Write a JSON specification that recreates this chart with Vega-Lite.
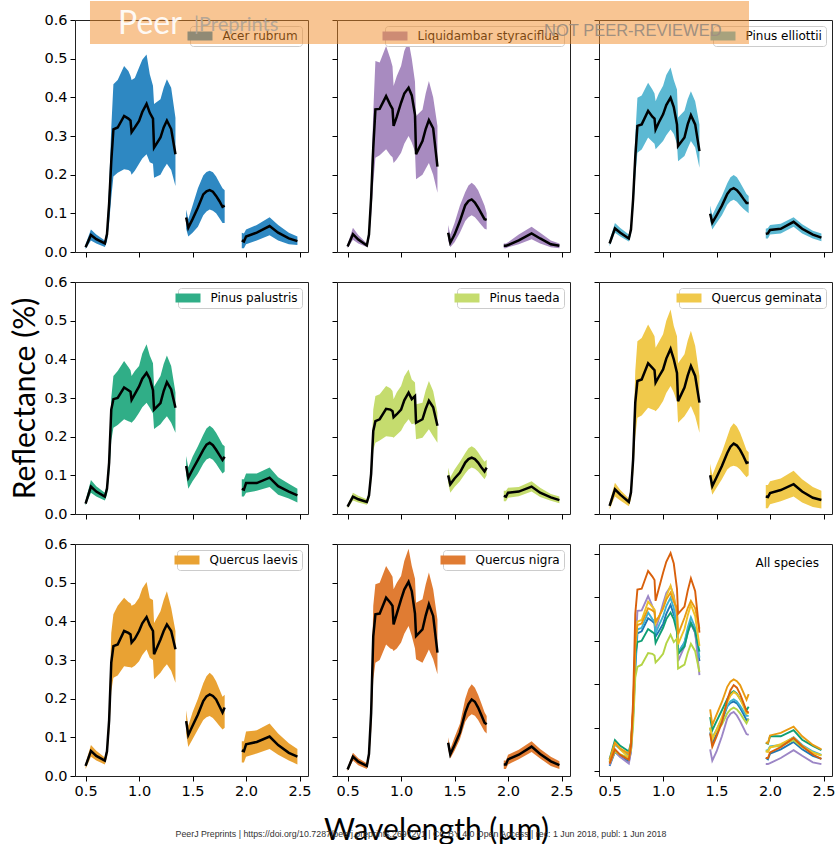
{
"$schema":"https://vega.github.io/schema/vega-lite/v6.json",
"autosize":{"type":"pad"},
"padding":{"left":9,"top":0,"right":4,"bottom":0},
"background":"white",
"datasets":{"s":[
{"s":"Acer rubrum","g":1,"w":0.5,"m":0.012,"lo":0.008,"hi":0.020},
{"s":"Acer rubrum","g":1,"w":0.55,"m":0.044,"lo":0.030,"hi":0.058},
{"s":"Acer rubrum","g":1,"w":0.6,"m":0.033,"lo":0.022,"hi":0.045},
{"s":"Acer rubrum","g":1,"w":0.68,"m":0.022,"lo":0.013,"hi":0.030},
{"s":"Acer rubrum","g":1,"w":0.7,"m":0.046,"lo":0.027,"hi":0.062},
{"s":"Acer rubrum","g":1,"w":0.72,"m":0.125,"lo":0.075,"hi":0.171},
{"s":"Acer rubrum","g":1,"w":0.74,"m":0.234,"lo":0.140,"hi":0.321},
{"s":"Acer rubrum","g":1,"w":0.76,"m":0.317,"lo":0.195,"hi":0.434},
{"s":"Acer rubrum","g":1,"w":0.8,"m":0.322,"lo":0.205,"hi":0.445},
{"s":"Acer rubrum","g":1,"w":0.86,"m":0.352,"lo":0.214,"hi":0.481},
{"s":"Acer rubrum","g":1,"w":0.9,"m":0.345,"lo":0.212,"hi":0.468},
{"s":"Acer rubrum","g":1,"w":0.92,"m":0.340,"lo":0.208,"hi":0.455},
{"s":"Acer rubrum","g":1,"w":0.93,"m":0.310,"lo":0.200,"hi":0.445},
{"s":"Acer rubrum","g":1,"w":0.96,"m":0.322,"lo":0.210,"hi":0.450},
{"s":"Acer rubrum","g":1,"w":1.0,"m":0.339,"lo":0.228,"hi":0.477},
{"s":"Acer rubrum","g":1,"w":1.03,"m":0.362,"lo":0.242,"hi":0.497},
{"s":"Acer rubrum","g":1,"w":1.07,"m":0.383,"lo":0.253,"hi":0.511},
{"s":"Acer rubrum","g":1,"w":1.1,"m":0.360,"lo":0.232,"hi":0.460},
{"s":"Acer rubrum","g":1,"w":1.13,"m":0.345,"lo":0.228,"hi":0.430},
{"s":"Acer rubrum","g":1,"w":1.14,"m":0.270,"lo":0.192,"hi":0.383},
{"s":"Acer rubrum","g":1,"w":1.2,"m":0.296,"lo":0.200,"hi":0.395},
{"s":"Acer rubrum","g":1,"w":1.23,"m":0.322,"lo":0.215,"hi":0.425},
{"s":"Acer rubrum","g":1,"w":1.26,"m":0.340,"lo":0.228,"hi":0.447},
{"s":"Acer rubrum","g":1,"w":1.3,"m":0.318,"lo":0.212,"hi":0.425},
{"s":"Acer rubrum","g":1,"w":1.34,"m":0.253,"lo":0.171,"hi":0.347},
{"s":"Acer rubrum","g":2,"w":1.44,"m":0.089,"lo":0.060,"hi":0.110},
{"s":"Acer rubrum","g":2,"w":1.46,"m":0.063,"lo":0.040,"hi":0.085},
{"s":"Acer rubrum","g":2,"w":1.5,"m":0.085,"lo":0.050,"hi":0.120},
{"s":"Acer rubrum","g":2,"w":1.55,"m":0.115,"lo":0.065,"hi":0.165},
{"s":"Acer rubrum","g":2,"w":1.6,"m":0.149,"lo":0.095,"hi":0.198},
{"s":"Acer rubrum","g":2,"w":1.63,"m":0.157,"lo":0.105,"hi":0.207},
{"s":"Acer rubrum","g":2,"w":1.66,"m":0.160,"lo":0.110,"hi":0.210},
{"s":"Acer rubrum","g":2,"w":1.69,"m":0.156,"lo":0.107,"hi":0.206},
{"s":"Acer rubrum","g":2,"w":1.72,"m":0.145,"lo":0.100,"hi":0.195},
{"s":"Acer rubrum","g":2,"w":1.75,"m":0.132,"lo":0.088,"hi":0.180},
{"s":"Acer rubrum","g":2,"w":1.78,"m":0.117,"lo":0.075,"hi":0.165},
{"s":"Acer rubrum","g":2,"w":1.8,"m":0.120,"lo":0.075,"hi":0.160},
{"s":"Acer rubrum","g":3,"w":1.96,"m":0.030,"lo":0.010,"hi":0.050},
{"s":"Acer rubrum","g":3,"w":1.98,"m":0.027,"lo":0.010,"hi":0.048},
{"s":"Acer rubrum","g":3,"w":2.0,"m":0.040,"lo":0.020,"hi":0.058},
{"s":"Acer rubrum","g":3,"w":2.1,"m":0.050,"lo":0.030,"hi":0.070},
{"s":"Acer rubrum","g":3,"w":2.22,"m":0.067,"lo":0.043,"hi":0.090},
{"s":"Acer rubrum","g":3,"w":2.3,"m":0.050,"lo":0.030,"hi":0.070},
{"s":"Acer rubrum","g":3,"w":2.4,"m":0.035,"lo":0.020,"hi":0.050},
{"s":"Acer rubrum","g":3,"w":2.48,"m":0.028,"lo":0.018,"hi":0.040},
{"s":"Liquidambar styraciflua","g":1,"w":0.5,"m":0.014,"lo":0.010,"hi":0.020},
{"s":"Liquidambar styraciflua","g":1,"w":0.55,"m":0.046,"lo":0.032,"hi":0.063},
{"s":"Liquidambar styraciflua","g":1,"w":0.6,"m":0.032,"lo":0.022,"hi":0.044},
{"s":"Liquidambar styraciflua","g":1,"w":0.68,"m":0.017,"lo":0.013,"hi":0.022},
{"s":"Liquidambar styraciflua","g":1,"w":0.7,"m":0.045,"lo":0.031,"hi":0.060},
{"s":"Liquidambar styraciflua","g":1,"w":0.72,"m":0.140,"lo":0.094,"hi":0.187},
{"s":"Liquidambar styraciflua","g":1,"w":0.74,"m":0.270,"lo":0.179,"hi":0.362},
{"s":"Liquidambar styraciflua","g":1,"w":0.76,"m":0.369,"lo":0.244,"hi":0.494},
{"s":"Liquidambar styraciflua","g":1,"w":0.8,"m":0.370,"lo":0.250,"hi":0.490},
{"s":"Liquidambar styraciflua","g":1,"w":0.86,"m":0.403,"lo":0.266,"hi":0.533},
{"s":"Liquidambar styraciflua","g":1,"w":0.9,"m":0.380,"lo":0.250,"hi":0.500},
{"s":"Liquidambar styraciflua","g":1,"w":0.92,"m":0.370,"lo":0.245,"hi":0.480},
{"s":"Liquidambar styraciflua","g":1,"w":0.93,"m":0.326,"lo":0.230,"hi":0.429},
{"s":"Liquidambar styraciflua","g":1,"w":0.96,"m":0.350,"lo":0.240,"hi":0.455},
{"s":"Liquidambar styraciflua","g":1,"w":1.0,"m":0.386,"lo":0.257,"hi":0.481},
{"s":"Liquidambar styraciflua","g":1,"w":1.03,"m":0.410,"lo":0.280,"hi":0.520},
{"s":"Liquidambar styraciflua","g":1,"w":1.07,"m":0.425,"lo":0.300,"hi":0.546},
{"s":"Liquidambar styraciflua","g":1,"w":1.1,"m":0.405,"lo":0.283,"hi":0.500},
{"s":"Liquidambar styraciflua","g":1,"w":1.13,"m":0.355,"lo":0.260,"hi":0.440},
{"s":"Liquidambar styraciflua","g":1,"w":1.14,"m":0.253,"lo":0.188,"hi":0.352},
{"s":"Liquidambar styraciflua","g":1,"w":1.2,"m":0.287,"lo":0.200,"hi":0.368},
{"s":"Liquidambar styraciflua","g":1,"w":1.23,"m":0.318,"lo":0.215,"hi":0.410},
{"s":"Liquidambar styraciflua","g":1,"w":1.26,"m":0.341,"lo":0.230,"hi":0.442},
{"s":"Liquidambar styraciflua","g":1,"w":1.3,"m":0.320,"lo":0.200,"hi":0.400},
{"s":"Liquidambar styraciflua","g":1,"w":1.34,"m":0.221,"lo":0.153,"hi":0.326},
{"s":"Liquidambar styraciflua","g":2,"w":1.44,"m":0.050,"lo":0.030,"hi":0.070},
{"s":"Liquidambar styraciflua","g":2,"w":1.46,"m":0.024,"lo":0.012,"hi":0.045},
{"s":"Liquidambar styraciflua","g":2,"w":1.5,"m":0.045,"lo":0.025,"hi":0.075},
{"s":"Liquidambar styraciflua","g":2,"w":1.55,"m":0.080,"lo":0.050,"hi":0.120},
{"s":"Liquidambar styraciflua","g":2,"w":1.6,"m":0.121,"lo":0.080,"hi":0.155},
{"s":"Liquidambar styraciflua","g":2,"w":1.63,"m":0.132,"lo":0.090,"hi":0.172},
{"s":"Liquidambar styraciflua","g":2,"w":1.66,"m":0.136,"lo":0.095,"hi":0.179},
{"s":"Liquidambar styraciflua","g":2,"w":1.69,"m":0.128,"lo":0.090,"hi":0.172},
{"s":"Liquidambar styraciflua","g":2,"w":1.72,"m":0.115,"lo":0.080,"hi":0.160},
{"s":"Liquidambar styraciflua","g":2,"w":1.75,"m":0.100,"lo":0.070,"hi":0.140},
{"s":"Liquidambar styraciflua","g":2,"w":1.78,"m":0.085,"lo":0.060,"hi":0.120},
{"s":"Liquidambar styraciflua","g":2,"w":1.8,"m":0.083,"lo":0.058,"hi":0.100},
{"s":"Liquidambar styraciflua","g":3,"w":1.96,"m":0.016,"lo":0.010,"hi":0.022},
{"s":"Liquidambar styraciflua","g":3,"w":1.98,"m":0.016,"lo":0.010,"hi":0.022},
{"s":"Liquidambar styraciflua","g":3,"w":2.0,"m":0.018,"lo":0.012,"hi":0.025},
{"s":"Liquidambar styraciflua","g":3,"w":2.1,"m":0.030,"lo":0.020,"hi":0.045},
{"s":"Liquidambar styraciflua","g":3,"w":2.22,"m":0.048,"lo":0.033,"hi":0.065},
{"s":"Liquidambar styraciflua","g":3,"w":2.3,"m":0.035,"lo":0.022,"hi":0.050},
{"s":"Liquidambar styraciflua","g":3,"w":2.4,"m":0.020,"lo":0.012,"hi":0.030},
{"s":"Liquidambar styraciflua","g":3,"w":2.48,"m":0.016,"lo":0.010,"hi":0.022},
{"s":"Pinus elliottii","g":1,"w":0.5,"m":0.022,"lo":0.015,"hi":0.030},
{"s":"Pinus elliottii","g":1,"w":0.55,"m":0.061,"lo":0.050,"hi":0.075},
{"s":"Pinus elliottii","g":1,"w":0.6,"m":0.050,"lo":0.040,"hi":0.062},
{"s":"Pinus elliottii","g":1,"w":0.68,"m":0.035,"lo":0.027,"hi":0.045},
{"s":"Pinus elliottii","g":1,"w":0.7,"m":0.058,"lo":0.045,"hi":0.073},
{"s":"Pinus elliottii","g":1,"w":0.72,"m":0.137,"lo":0.108,"hi":0.169},
{"s":"Pinus elliottii","g":1,"w":0.74,"m":0.245,"lo":0.193,"hi":0.300},
{"s":"Pinus elliottii","g":1,"w":0.76,"m":0.326,"lo":0.257,"hi":0.399},
{"s":"Pinus elliottii","g":1,"w":0.8,"m":0.330,"lo":0.265,"hi":0.405},
{"s":"Pinus elliottii","g":1,"w":0.86,"m":0.365,"lo":0.296,"hi":0.438},
{"s":"Pinus elliottii","g":1,"w":0.9,"m":0.350,"lo":0.285,"hi":0.420},
{"s":"Pinus elliottii","g":1,"w":0.92,"m":0.345,"lo":0.280,"hi":0.410},
{"s":"Pinus elliottii","g":1,"w":0.93,"m":0.317,"lo":0.266,"hi":0.390},
{"s":"Pinus elliottii","g":1,"w":0.96,"m":0.335,"lo":0.275,"hi":0.410},
{"s":"Pinus elliottii","g":1,"w":1.0,"m":0.356,"lo":0.287,"hi":0.430},
{"s":"Pinus elliottii","g":1,"w":1.03,"m":0.380,"lo":0.302,"hi":0.458},
{"s":"Pinus elliottii","g":1,"w":1.07,"m":0.399,"lo":0.317,"hi":0.477},
{"s":"Pinus elliottii","g":1,"w":1.1,"m":0.375,"lo":0.305,"hi":0.445},
{"s":"Pinus elliottii","g":1,"w":1.13,"m":0.330,"lo":0.280,"hi":0.420},
{"s":"Pinus elliottii","g":1,"w":1.14,"m":0.274,"lo":0.235,"hi":0.348},
{"s":"Pinus elliottii","g":1,"w":1.2,"m":0.296,"lo":0.248,"hi":0.365},
{"s":"Pinus elliottii","g":1,"w":1.23,"m":0.330,"lo":0.268,"hi":0.395},
{"s":"Pinus elliottii","g":1,"w":1.26,"m":0.354,"lo":0.287,"hi":0.416},
{"s":"Pinus elliottii","g":1,"w":1.3,"m":0.330,"lo":0.270,"hi":0.390},
{"s":"Pinus elliottii","g":1,"w":1.34,"m":0.261,"lo":0.218,"hi":0.330},
{"s":"Pinus elliottii","g":2,"w":1.44,"m":0.099,"lo":0.080,"hi":0.120},
{"s":"Pinus elliottii","g":2,"w":1.46,"m":0.076,"lo":0.058,"hi":0.095},
{"s":"Pinus elliottii","g":2,"w":1.5,"m":0.095,"lo":0.075,"hi":0.118},
{"s":"Pinus elliottii","g":2,"w":1.55,"m":0.120,"lo":0.095,"hi":0.145},
{"s":"Pinus elliottii","g":2,"w":1.6,"m":0.150,"lo":0.122,"hi":0.178},
{"s":"Pinus elliottii","g":2,"w":1.63,"m":0.161,"lo":0.131,"hi":0.193},
{"s":"Pinus elliottii","g":2,"w":1.66,"m":0.165,"lo":0.135,"hi":0.199},
{"s":"Pinus elliottii","g":2,"w":1.69,"m":0.160,"lo":0.130,"hi":0.193},
{"s":"Pinus elliottii","g":2,"w":1.72,"m":0.150,"lo":0.120,"hi":0.180},
{"s":"Pinus elliottii","g":2,"w":1.75,"m":0.138,"lo":0.112,"hi":0.165},
{"s":"Pinus elliottii","g":2,"w":1.78,"m":0.127,"lo":0.105,"hi":0.150},
{"s":"Pinus elliottii","g":2,"w":1.8,"m":0.127,"lo":0.100,"hi":0.145},
{"s":"Pinus elliottii","g":3,"w":1.96,"m":0.047,"lo":0.035,"hi":0.060},
{"s":"Pinus elliottii","g":3,"w":1.98,"m":0.048,"lo":0.035,"hi":0.062},
{"s":"Pinus elliottii","g":3,"w":2.0,"m":0.057,"lo":0.045,"hi":0.070},
{"s":"Pinus elliottii","g":3,"w":2.1,"m":0.060,"lo":0.048,"hi":0.073},
{"s":"Pinus elliottii","g":3,"w":2.22,"m":0.078,"lo":0.065,"hi":0.090},
{"s":"Pinus elliottii","g":3,"w":2.3,"m":0.060,"lo":0.048,"hi":0.072},
{"s":"Pinus elliottii","g":3,"w":2.4,"m":0.045,"lo":0.035,"hi":0.055},
{"s":"Pinus elliottii","g":3,"w":2.48,"m":0.037,"lo":0.028,"hi":0.048},
{"s":"Pinus palustris","g":1,"w":0.5,"m":0.027,"lo":0.022,"hi":0.035},
{"s":"Pinus palustris","g":1,"w":0.55,"m":0.071,"lo":0.055,"hi":0.088},
{"s":"Pinus palustris","g":1,"w":0.6,"m":0.058,"lo":0.045,"hi":0.072},
{"s":"Pinus palustris","g":1,"w":0.68,"m":0.045,"lo":0.035,"hi":0.055},
{"s":"Pinus palustris","g":1,"w":0.7,"m":0.065,"lo":0.050,"hi":0.079},
{"s":"Pinus palustris","g":1,"w":0.72,"m":0.133,"lo":0.101,"hi":0.161},
{"s":"Pinus palustris","g":1,"w":0.74,"m":0.270,"lo":0.190,"hi":0.300},
{"s":"Pinus palustris","g":1,"w":0.76,"m":0.297,"lo":0.223,"hi":0.357},
{"s":"Pinus palustris","g":1,"w":0.8,"m":0.300,"lo":0.230,"hi":0.370},
{"s":"Pinus palustris","g":1,"w":0.86,"m":0.327,"lo":0.245,"hi":0.396},
{"s":"Pinus palustris","g":1,"w":0.9,"m":0.320,"lo":0.240,"hi":0.380},
{"s":"Pinus palustris","g":1,"w":0.92,"m":0.316,"lo":0.238,"hi":0.372},
{"s":"Pinus palustris","g":1,"w":0.93,"m":0.295,"lo":0.236,"hi":0.357},
{"s":"Pinus palustris","g":1,"w":0.96,"m":0.310,"lo":0.245,"hi":0.370},
{"s":"Pinus palustris","g":1,"w":1.0,"m":0.330,"lo":0.262,"hi":0.383},
{"s":"Pinus palustris","g":1,"w":1.03,"m":0.350,"lo":0.276,"hi":0.415},
{"s":"Pinus palustris","g":1,"w":1.07,"m":0.365,"lo":0.288,"hi":0.439},
{"s":"Pinus palustris","g":1,"w":1.1,"m":0.350,"lo":0.275,"hi":0.410},
{"s":"Pinus palustris","g":1,"w":1.13,"m":0.320,"lo":0.260,"hi":0.390},
{"s":"Pinus palustris","g":1,"w":1.14,"m":0.270,"lo":0.220,"hi":0.330},
{"s":"Pinus palustris","g":1,"w":1.2,"m":0.287,"lo":0.232,"hi":0.357},
{"s":"Pinus palustris","g":1,"w":1.23,"m":0.318,"lo":0.243,"hi":0.388},
{"s":"Pinus palustris","g":1,"w":1.26,"m":0.341,"lo":0.253,"hi":0.410},
{"s":"Pinus palustris","g":1,"w":1.3,"m":0.322,"lo":0.236,"hi":0.383},
{"s":"Pinus palustris","g":1,"w":1.34,"m":0.275,"lo":0.210,"hi":0.314},
{"s":"Pinus palustris","g":2,"w":1.44,"m":0.124,"lo":0.100,"hi":0.150},
{"s":"Pinus palustris","g":2,"w":1.46,"m":0.094,"lo":0.065,"hi":0.120},
{"s":"Pinus palustris","g":2,"w":1.5,"m":0.115,"lo":0.085,"hi":0.148},
{"s":"Pinus palustris","g":2,"w":1.55,"m":0.140,"lo":0.105,"hi":0.175},
{"s":"Pinus palustris","g":2,"w":1.6,"m":0.166,"lo":0.130,"hi":0.205},
{"s":"Pinus palustris","g":2,"w":1.63,"m":0.179,"lo":0.141,"hi":0.221},
{"s":"Pinus palustris","g":2,"w":1.66,"m":0.184,"lo":0.145,"hi":0.228},
{"s":"Pinus palustris","g":2,"w":1.69,"m":0.178,"lo":0.140,"hi":0.222},
{"s":"Pinus palustris","g":2,"w":1.72,"m":0.166,"lo":0.130,"hi":0.210},
{"s":"Pinus palustris","g":2,"w":1.75,"m":0.153,"lo":0.117,"hi":0.195},
{"s":"Pinus palustris","g":2,"w":1.78,"m":0.140,"lo":0.105,"hi":0.180},
{"s":"Pinus palustris","g":2,"w":1.8,"m":0.148,"lo":0.110,"hi":0.175},
{"s":"Pinus palustris","g":3,"w":1.96,"m":0.065,"lo":0.045,"hi":0.090},
{"s":"Pinus palustris","g":3,"w":1.98,"m":0.063,"lo":0.045,"hi":0.090},
{"s":"Pinus palustris","g":3,"w":2.0,"m":0.080,"lo":0.055,"hi":0.105},
{"s":"Pinus palustris","g":3,"w":2.1,"m":0.080,"lo":0.060,"hi":0.105},
{"s":"Pinus palustris","g":3,"w":2.22,"m":0.094,"lo":0.070,"hi":0.120},
{"s":"Pinus palustris","g":3,"w":2.3,"m":0.072,"lo":0.050,"hi":0.095},
{"s":"Pinus palustris","g":3,"w":2.4,"m":0.058,"lo":0.040,"hi":0.078},
{"s":"Pinus palustris","g":3,"w":2.48,"m":0.048,"lo":0.030,"hi":0.065},
{"s":"Pinus taeda","g":1,"w":0.5,"m":0.019,"lo":0.014,"hi":0.024},
{"s":"Pinus taeda","g":1,"w":0.55,"m":0.045,"lo":0.035,"hi":0.055},
{"s":"Pinus taeda","g":1,"w":0.6,"m":0.038,"lo":0.030,"hi":0.047},
{"s":"Pinus taeda","g":1,"w":0.68,"m":0.031,"lo":0.024,"hi":0.038},
{"s":"Pinus taeda","g":1,"w":0.7,"m":0.048,"lo":0.037,"hi":0.059},
{"s":"Pinus taeda","g":1,"w":0.72,"m":0.104,"lo":0.080,"hi":0.131},
{"s":"Pinus taeda","g":1,"w":0.74,"m":0.215,"lo":0.165,"hi":0.270},
{"s":"Pinus taeda","g":1,"w":0.76,"m":0.240,"lo":0.184,"hi":0.305},
{"s":"Pinus taeda","g":1,"w":0.8,"m":0.245,"lo":0.190,"hi":0.310},
{"s":"Pinus taeda","g":1,"w":0.86,"m":0.272,"lo":0.201,"hi":0.331},
{"s":"Pinus taeda","g":1,"w":0.9,"m":0.270,"lo":0.200,"hi":0.325},
{"s":"Pinus taeda","g":1,"w":0.92,"m":0.266,"lo":0.199,"hi":0.318},
{"s":"Pinus taeda","g":1,"w":0.93,"m":0.250,"lo":0.197,"hi":0.297},
{"s":"Pinus taeda","g":1,"w":0.96,"m":0.258,"lo":0.205,"hi":0.315},
{"s":"Pinus taeda","g":1,"w":1.0,"m":0.270,"lo":0.215,"hi":0.331},
{"s":"Pinus taeda","g":1,"w":1.03,"m":0.294,"lo":0.231,"hi":0.356},
{"s":"Pinus taeda","g":1,"w":1.07,"m":0.314,"lo":0.245,"hi":0.374},
{"s":"Pinus taeda","g":1,"w":1.1,"m":0.297,"lo":0.232,"hi":0.348},
{"s":"Pinus taeda","g":1,"w":1.13,"m":0.305,"lo":0.235,"hi":0.340},
{"s":"Pinus taeda","g":1,"w":1.14,"m":0.236,"lo":0.193,"hi":0.284},
{"s":"Pinus taeda","g":1,"w":1.2,"m":0.245,"lo":0.197,"hi":0.288},
{"s":"Pinus taeda","g":1,"w":1.23,"m":0.272,"lo":0.208,"hi":0.320},
{"s":"Pinus taeda","g":1,"w":1.26,"m":0.293,"lo":0.219,"hi":0.344},
{"s":"Pinus taeda","g":1,"w":1.3,"m":0.276,"lo":0.201,"hi":0.318},
{"s":"Pinus taeda","g":1,"w":1.34,"m":0.228,"lo":0.184,"hi":0.262},
{"s":"Pinus taeda","g":2,"w":1.44,"m":0.100,"lo":0.080,"hi":0.120},
{"s":"Pinus taeda","g":2,"w":1.46,"m":0.077,"lo":0.055,"hi":0.095},
{"s":"Pinus taeda","g":2,"w":1.5,"m":0.092,"lo":0.070,"hi":0.115},
{"s":"Pinus taeda","g":2,"w":1.55,"m":0.107,"lo":0.085,"hi":0.135},
{"s":"Pinus taeda","g":2,"w":1.6,"m":0.133,"lo":0.105,"hi":0.158},
{"s":"Pinus taeda","g":2,"w":1.63,"m":0.142,"lo":0.115,"hi":0.170},
{"s":"Pinus taeda","g":2,"w":1.66,"m":0.146,"lo":0.120,"hi":0.175},
{"s":"Pinus taeda","g":2,"w":1.69,"m":0.142,"lo":0.117,"hi":0.170},
{"s":"Pinus taeda","g":2,"w":1.72,"m":0.133,"lo":0.110,"hi":0.160},
{"s":"Pinus taeda","g":2,"w":1.75,"m":0.121,"lo":0.100,"hi":0.147},
{"s":"Pinus taeda","g":2,"w":1.78,"m":0.110,"lo":0.090,"hi":0.135},
{"s":"Pinus taeda","g":2,"w":1.8,"m":0.120,"lo":0.100,"hi":0.140},
{"s":"Pinus taeda","g":3,"w":1.96,"m":0.047,"lo":0.033,"hi":0.060},
{"s":"Pinus taeda","g":3,"w":1.98,"m":0.045,"lo":0.033,"hi":0.060},
{"s":"Pinus taeda","g":3,"w":2.0,"m":0.055,"lo":0.042,"hi":0.068},
{"s":"Pinus taeda","g":3,"w":2.1,"m":0.058,"lo":0.046,"hi":0.070},
{"s":"Pinus taeda","g":3,"w":2.22,"m":0.071,"lo":0.058,"hi":0.085},
{"s":"Pinus taeda","g":3,"w":2.3,"m":0.055,"lo":0.044,"hi":0.068},
{"s":"Pinus taeda","g":3,"w":2.4,"m":0.043,"lo":0.034,"hi":0.052},
{"s":"Pinus taeda","g":3,"w":2.48,"m":0.036,"lo":0.028,"hi":0.045},
{"s":"Quercus geminata","g":1,"w":0.5,"m":0.021,"lo":0.012,"hi":0.030},
{"s":"Quercus geminata","g":1,"w":0.55,"m":0.064,"lo":0.045,"hi":0.081},
{"s":"Quercus geminata","g":1,"w":0.6,"m":0.050,"lo":0.035,"hi":0.062},
{"s":"Quercus geminata","g":1,"w":0.68,"m":0.031,"lo":0.020,"hi":0.040},
{"s":"Quercus geminata","g":1,"w":0.7,"m":0.056,"lo":0.038,"hi":0.073},
{"s":"Quercus geminata","g":1,"w":0.72,"m":0.141,"lo":0.100,"hi":0.182},
{"s":"Quercus geminata","g":1,"w":0.74,"m":0.288,"lo":0.200,"hi":0.370},
{"s":"Quercus geminata","g":1,"w":0.76,"m":0.344,"lo":0.249,"hi":0.447},
{"s":"Quercus geminata","g":1,"w":0.8,"m":0.348,"lo":0.255,"hi":0.455},
{"s":"Quercus geminata","g":1,"w":0.86,"m":0.390,"lo":0.275,"hi":0.490},
{"s":"Quercus geminata","g":1,"w":0.9,"m":0.378,"lo":0.270,"hi":0.470},
{"s":"Quercus geminata","g":1,"w":0.92,"m":0.372,"lo":0.268,"hi":0.460},
{"s":"Quercus geminata","g":1,"w":0.93,"m":0.340,"lo":0.266,"hi":0.430},
{"s":"Quercus geminata","g":1,"w":0.96,"m":0.355,"lo":0.275,"hi":0.445},
{"s":"Quercus geminata","g":1,"w":1.0,"m":0.374,"lo":0.292,"hi":0.465},
{"s":"Quercus geminata","g":1,"w":1.03,"m":0.402,"lo":0.313,"hi":0.500},
{"s":"Quercus geminata","g":1,"w":1.07,"m":0.427,"lo":0.331,"hi":0.529},
{"s":"Quercus geminata","g":1,"w":1.1,"m":0.400,"lo":0.314,"hi":0.486},
{"s":"Quercus geminata","g":1,"w":1.13,"m":0.365,"lo":0.290,"hi":0.460},
{"s":"Quercus geminata","g":1,"w":1.14,"m":0.292,"lo":0.236,"hi":0.390},
{"s":"Quercus geminata","g":1,"w":1.2,"m":0.327,"lo":0.253,"hi":0.413},
{"s":"Quercus geminata","g":1,"w":1.23,"m":0.358,"lo":0.266,"hi":0.448},
{"s":"Quercus geminata","g":1,"w":1.26,"m":0.383,"lo":0.279,"hi":0.474},
{"s":"Quercus geminata","g":1,"w":1.3,"m":0.357,"lo":0.253,"hi":0.435},
{"s":"Quercus geminata","g":1,"w":1.34,"m":0.288,"lo":0.210,"hi":0.357},
{"s":"Quercus geminata","g":2,"w":1.44,"m":0.100,"lo":0.075,"hi":0.130},
{"s":"Quercus geminata","g":2,"w":1.46,"m":0.072,"lo":0.050,"hi":0.100},
{"s":"Quercus geminata","g":2,"w":1.5,"m":0.095,"lo":0.068,"hi":0.128},
{"s":"Quercus geminata","g":2,"w":1.55,"m":0.124,"lo":0.090,"hi":0.160},
{"s":"Quercus geminata","g":2,"w":1.6,"m":0.158,"lo":0.115,"hi":0.200},
{"s":"Quercus geminata","g":2,"w":1.63,"m":0.174,"lo":0.122,"hi":0.224},
{"s":"Quercus geminata","g":2,"w":1.66,"m":0.182,"lo":0.125,"hi":0.235},
{"s":"Quercus geminata","g":2,"w":1.69,"m":0.177,"lo":0.122,"hi":0.226},
{"s":"Quercus geminata","g":2,"w":1.72,"m":0.166,"lo":0.115,"hi":0.210},
{"s":"Quercus geminata","g":2,"w":1.75,"m":0.150,"lo":0.105,"hi":0.188},
{"s":"Quercus geminata","g":2,"w":1.78,"m":0.132,"lo":0.095,"hi":0.165},
{"s":"Quercus geminata","g":2,"w":1.8,"m":0.134,"lo":0.100,"hi":0.160},
{"s":"Quercus geminata","g":3,"w":1.96,"m":0.045,"lo":0.015,"hi":0.075},
{"s":"Quercus geminata","g":3,"w":1.98,"m":0.044,"lo":0.015,"hi":0.075},
{"s":"Quercus geminata","g":3,"w":2.0,"m":0.054,"lo":0.025,"hi":0.085},
{"s":"Quercus geminata","g":3,"w":2.1,"m":0.062,"lo":0.033,"hi":0.092},
{"s":"Quercus geminata","g":3,"w":2.22,"m":0.077,"lo":0.045,"hi":0.112},
{"s":"Quercus geminata","g":3,"w":2.3,"m":0.058,"lo":0.030,"hi":0.090},
{"s":"Quercus geminata","g":3,"w":2.4,"m":0.042,"lo":0.018,"hi":0.070},
{"s":"Quercus geminata","g":3,"w":2.48,"m":0.036,"lo":0.014,"hi":0.060},
{"s":"Quercus laevis","g":1,"w":0.5,"m":0.026,"lo":0.018,"hi":0.033},
{"s":"Quercus laevis","g":1,"w":0.55,"m":0.065,"lo":0.050,"hi":0.080},
{"s":"Quercus laevis","g":1,"w":0.6,"m":0.052,"lo":0.040,"hi":0.065},
{"s":"Quercus laevis","g":1,"w":0.68,"m":0.040,"lo":0.030,"hi":0.048},
{"s":"Quercus laevis","g":1,"w":0.7,"m":0.064,"lo":0.048,"hi":0.078},
{"s":"Quercus laevis","g":1,"w":0.72,"m":0.144,"lo":0.108,"hi":0.178},
{"s":"Quercus laevis","g":1,"w":0.74,"m":0.293,"lo":0.220,"hi":0.370},
{"s":"Quercus laevis","g":1,"w":0.76,"m":0.336,"lo":0.254,"hi":0.418},
{"s":"Quercus laevis","g":1,"w":0.8,"m":0.340,"lo":0.260,"hi":0.440},
{"s":"Quercus laevis","g":1,"w":0.86,"m":0.375,"lo":0.284,"hi":0.461},
{"s":"Quercus laevis","g":1,"w":0.9,"m":0.370,"lo":0.282,"hi":0.450},
{"s":"Quercus laevis","g":1,"w":0.92,"m":0.366,"lo":0.281,"hi":0.447},
{"s":"Quercus laevis","g":1,"w":0.93,"m":0.345,"lo":0.280,"hi":0.440},
{"s":"Quercus laevis","g":1,"w":0.96,"m":0.355,"lo":0.285,"hi":0.445},
{"s":"Quercus laevis","g":1,"w":1.0,"m":0.375,"lo":0.297,"hi":0.461},
{"s":"Quercus laevis","g":1,"w":1.03,"m":0.395,"lo":0.313,"hi":0.485},
{"s":"Quercus laevis","g":1,"w":1.07,"m":0.411,"lo":0.327,"hi":0.502},
{"s":"Quercus laevis","g":1,"w":1.1,"m":0.390,"lo":0.306,"hi":0.460},
{"s":"Quercus laevis","g":1,"w":1.13,"m":0.375,"lo":0.300,"hi":0.455},
{"s":"Quercus laevis","g":1,"w":1.14,"m":0.315,"lo":0.250,"hi":0.396},
{"s":"Quercus laevis","g":1,"w":1.2,"m":0.353,"lo":0.267,"hi":0.426},
{"s":"Quercus laevis","g":1,"w":1.23,"m":0.375,"lo":0.279,"hi":0.455},
{"s":"Quercus laevis","g":1,"w":1.26,"m":0.392,"lo":0.289,"hi":0.478},
{"s":"Quercus laevis","g":1,"w":1.3,"m":0.375,"lo":0.272,"hi":0.435},
{"s":"Quercus laevis","g":1,"w":1.34,"m":0.328,"lo":0.241,"hi":0.375},
{"s":"Quercus laevis","g":2,"w":1.44,"m":0.142,"lo":0.110,"hi":0.170},
{"s":"Quercus laevis","g":2,"w":1.46,"m":0.106,"lo":0.075,"hi":0.130},
{"s":"Quercus laevis","g":2,"w":1.5,"m":0.130,"lo":0.095,"hi":0.165},
{"s":"Quercus laevis","g":2,"w":1.55,"m":0.159,"lo":0.120,"hi":0.200},
{"s":"Quercus laevis","g":2,"w":1.6,"m":0.194,"lo":0.145,"hi":0.240},
{"s":"Quercus laevis","g":2,"w":1.63,"m":0.206,"lo":0.152,"hi":0.258},
{"s":"Quercus laevis","g":2,"w":1.66,"m":0.211,"lo":0.155,"hi":0.267},
{"s":"Quercus laevis","g":2,"w":1.69,"m":0.207,"lo":0.150,"hi":0.259},
{"s":"Quercus laevis","g":2,"w":1.72,"m":0.198,"lo":0.140,"hi":0.245},
{"s":"Quercus laevis","g":2,"w":1.75,"m":0.181,"lo":0.130,"hi":0.225},
{"s":"Quercus laevis","g":2,"w":1.78,"m":0.164,"lo":0.120,"hi":0.205},
{"s":"Quercus laevis","g":2,"w":1.8,"m":0.177,"lo":0.125,"hi":0.210},
{"s":"Quercus laevis","g":3,"w":1.96,"m":0.066,"lo":0.035,"hi":0.090},
{"s":"Quercus laevis","g":3,"w":1.98,"m":0.064,"lo":0.035,"hi":0.090},
{"s":"Quercus laevis","g":3,"w":2.0,"m":0.082,"lo":0.050,"hi":0.115},
{"s":"Quercus laevis","g":3,"w":2.1,"m":0.088,"lo":0.058,"hi":0.118},
{"s":"Quercus laevis","g":3,"w":2.22,"m":0.102,"lo":0.070,"hi":0.136},
{"s":"Quercus laevis","g":3,"w":2.3,"m":0.080,"lo":0.055,"hi":0.110},
{"s":"Quercus laevis","g":3,"w":2.4,"m":0.060,"lo":0.040,"hi":0.085},
{"s":"Quercus laevis","g":3,"w":2.48,"m":0.050,"lo":0.030,"hi":0.070},
{"s":"Quercus nigra","g":1,"w":0.5,"m":0.017,"lo":0.012,"hi":0.022},
{"s":"Quercus nigra","g":1,"w":0.55,"m":0.050,"lo":0.040,"hi":0.060},
{"s":"Quercus nigra","g":1,"w":0.6,"m":0.037,"lo":0.028,"hi":0.046},
{"s":"Quercus nigra","g":1,"w":0.68,"m":0.026,"lo":0.018,"hi":0.033},
{"s":"Quercus nigra","g":1,"w":0.7,"m":0.057,"lo":0.040,"hi":0.070},
{"s":"Quercus nigra","g":1,"w":0.72,"m":0.163,"lo":0.114,"hi":0.195},
{"s":"Quercus nigra","g":1,"w":0.74,"m":0.362,"lo":0.250,"hi":0.440},
{"s":"Quercus nigra","g":1,"w":0.76,"m":0.418,"lo":0.293,"hi":0.496},
{"s":"Quercus nigra","g":1,"w":0.8,"m":0.420,"lo":0.300,"hi":0.500},
{"s":"Quercus nigra","g":1,"w":0.86,"m":0.461,"lo":0.340,"hi":0.543},
{"s":"Quercus nigra","g":1,"w":0.9,"m":0.448,"lo":0.330,"hi":0.525},
{"s":"Quercus nigra","g":1,"w":0.92,"m":0.440,"lo":0.328,"hi":0.515},
{"s":"Quercus nigra","g":1,"w":0.93,"m":0.392,"lo":0.323,"hi":0.483},
{"s":"Quercus nigra","g":1,"w":0.96,"m":0.420,"lo":0.330,"hi":0.500},
{"s":"Quercus nigra","g":1,"w":1.0,"m":0.457,"lo":0.345,"hi":0.517},
{"s":"Quercus nigra","g":1,"w":1.03,"m":0.482,"lo":0.368,"hi":0.556},
{"s":"Quercus nigra","g":1,"w":1.07,"m":0.502,"lo":0.388,"hi":0.588},
{"s":"Quercus nigra","g":1,"w":1.1,"m":0.478,"lo":0.362,"hi":0.543},
{"s":"Quercus nigra","g":1,"w":1.13,"m":0.420,"lo":0.330,"hi":0.510},
{"s":"Quercus nigra","g":1,"w":1.14,"m":0.362,"lo":0.302,"hi":0.448},
{"s":"Quercus nigra","g":1,"w":1.2,"m":0.379,"lo":0.293,"hi":0.457},
{"s":"Quercus nigra","g":1,"w":1.23,"m":0.415,"lo":0.310,"hi":0.495},
{"s":"Quercus nigra","g":1,"w":1.26,"m":0.444,"lo":0.327,"hi":0.526},
{"s":"Quercus nigra","g":1,"w":1.3,"m":0.414,"lo":0.302,"hi":0.483},
{"s":"Quercus nigra","g":1,"w":1.34,"m":0.319,"lo":0.263,"hi":0.405},
{"s":"Quercus nigra","g":2,"w":1.44,"m":0.086,"lo":0.070,"hi":0.100},
{"s":"Quercus nigra","g":2,"w":1.46,"m":0.056,"lo":0.045,"hi":0.070},
{"s":"Quercus nigra","g":2,"w":1.5,"m":0.080,"lo":0.065,"hi":0.100},
{"s":"Quercus nigra","g":2,"w":1.55,"m":0.112,"lo":0.095,"hi":0.135},
{"s":"Quercus nigra","g":2,"w":1.6,"m":0.164,"lo":0.140,"hi":0.200},
{"s":"Quercus nigra","g":2,"w":1.63,"m":0.186,"lo":0.153,"hi":0.225},
{"s":"Quercus nigra","g":2,"w":1.66,"m":0.198,"lo":0.160,"hi":0.237},
{"s":"Quercus nigra","g":2,"w":1.69,"m":0.192,"lo":0.156,"hi":0.228},
{"s":"Quercus nigra","g":2,"w":1.72,"m":0.177,"lo":0.145,"hi":0.210},
{"s":"Quercus nigra","g":2,"w":1.75,"m":0.158,"lo":0.130,"hi":0.188},
{"s":"Quercus nigra","g":2,"w":1.78,"m":0.138,"lo":0.115,"hi":0.165},
{"s":"Quercus nigra","g":2,"w":1.8,"m":0.134,"lo":0.110,"hi":0.155},
{"s":"Quercus nigra","g":3,"w":1.96,"m":0.030,"lo":0.018,"hi":0.040},
{"s":"Quercus nigra","g":3,"w":1.98,"m":0.030,"lo":0.018,"hi":0.040},
{"s":"Quercus nigra","g":3,"w":2.0,"m":0.043,"lo":0.030,"hi":0.055},
{"s":"Quercus nigra","g":3,"w":2.1,"m":0.055,"lo":0.043,"hi":0.068},
{"s":"Quercus nigra","g":3,"w":2.22,"m":0.076,"lo":0.062,"hi":0.090},
{"s":"Quercus nigra","g":3,"w":2.3,"m":0.057,"lo":0.045,"hi":0.070},
{"s":"Quercus nigra","g":3,"w":2.4,"m":0.038,"lo":0.026,"hi":0.050},
{"s":"Quercus nigra","g":3,"w":2.48,"m":0.028,"lo":0.018,"hi":0.038}
]},
"columns":3,
"spacing":{"row":30,"column":29},
"bounds":"flush",
"resolve":{"scale":{"x":"independent","y":"independent","fill":"independent","color":"independent"}},
"concat":[
{"width":233,"height":232,"data":{"name":"s"},"transform":[{"filter":"datum.s==='Acer rubrum'"}],
 "encoding":{"x":{"field":"w","type":"quantitative","title":null,"scale":{"domain":[0.401,2.579],"nice":false,"zero":false},"axis":{"values":[0.5,1,1.5,2,2.5],"format":".1f","labels":false,"title":null}}},
 "layer":[
  {"mark":"area","encoding":{"y":{"field":"hi","type":"quantitative","title":null,"scale":{"domain":[0,0.6],"nice":false,"zero":false},"axis":{"values":[0,0.1,0.2,0.3,0.4,0.5,0.6],"format":".1f","labels":true,"title":null}},"y2":{"field":"lo"},"detail":{"field":"g","type":"nominal"},"fill":{"field":"s","type":"nominal","title":null,"scale":{"range":["#2E88C2"]}}}},
  {"mark":{"type":"line","color":"#000","strokeWidth":2.5},"encoding":{"y":{"field":"m","type":"quantitative","title":null,"scale":{"domain":[0,0.6],"nice":false,"zero":false},"axis":{"values":[0,0.1,0.2,0.3,0.4,0.5,0.6],"format":".1f","labels":true,"title":null}},"detail":{"field":"g","type":"nominal"}}}
 ]},
{"width":233,"height":232,"data":{"name":"s"},"transform":[{"filter":"datum.s==='Liquidambar styraciflua'"}],
 "encoding":{"x":{"field":"w","type":"quantitative","title":null,"scale":{"domain":[0.401,2.579],"nice":false,"zero":false},"axis":{"values":[0.5,1,1.5,2,2.5],"format":".1f","labels":false,"title":null}}},
 "layer":[
  {"mark":"area","encoding":{"y":{"field":"hi","type":"quantitative","title":null,"scale":{"domain":[0,0.6],"nice":false,"zero":false},"axis":{"values":[0,0.1,0.2,0.3,0.4,0.5,0.6],"format":".1f","labels":false,"title":null}},"y2":{"field":"lo"},"detail":{"field":"g","type":"nominal"},"fill":{"field":"s","type":"nominal","title":null,"scale":{"range":["#A88BC0"]}}}},
  {"mark":{"type":"line","color":"#000","strokeWidth":2.5},"encoding":{"y":{"field":"m","type":"quantitative","title":null,"scale":{"domain":[0,0.6],"nice":false,"zero":false},"axis":{"values":[0,0.1,0.2,0.3,0.4,0.5,0.6],"format":".1f","labels":false,"title":null}},"detail":{"field":"g","type":"nominal"}}}
 ]},
{"width":233,"height":232,"data":{"name":"s"},"transform":[{"filter":"datum.s==='Pinus elliottii'"}],
 "encoding":{"x":{"field":"w","type":"quantitative","title":null,"scale":{"domain":[0.401,2.579],"nice":false,"zero":false},"axis":{"values":[0.5,1,1.5,2,2.5],"format":".1f","labels":false,"title":null}}},
 "layer":[
  {"mark":"area","encoding":{"y":{"field":"hi","type":"quantitative","title":null,"scale":{"domain":[0,0.6],"nice":false,"zero":false},"axis":{"values":[0,0.1,0.2,0.3,0.4,0.5,0.6],"format":".1f","labels":false,"title":null}},"y2":{"field":"lo"},"detail":{"field":"g","type":"nominal"},"fill":{"field":"s","type":"nominal","title":null,"scale":{"range":["#5CB9D3"]}}}},
  {"mark":{"type":"line","color":"#000","strokeWidth":2.5},"encoding":{"y":{"field":"m","type":"quantitative","title":null,"scale":{"domain":[0,0.6],"nice":false,"zero":false},"axis":{"values":[0,0.1,0.2,0.3,0.4,0.5,0.6],"format":".1f","labels":false,"title":null}},"detail":{"field":"g","type":"nominal"}}}
 ]},
{"width":233,"height":232,"data":{"name":"s"},"transform":[{"filter":"datum.s==='Pinus palustris'"}],
 "encoding":{"x":{"field":"w","type":"quantitative","title":null,"scale":{"domain":[0.401,2.579],"nice":false,"zero":false},"axis":{"values":[0.5,1,1.5,2,2.5],"format":".1f","labels":false,"title":null}}},
 "layer":[
  {"mark":"area","encoding":{"y":{"field":"hi","type":"quantitative","title":"Reflectance (%)","scale":{"domain":[0,0.6],"nice":false,"zero":false},"axis":{"values":[0,0.1,0.2,0.3,0.4,0.5,0.6],"format":".1f","labels":true,"title":"Reflectance (%)","titleFont":"Lato","titleFontSize":30,"titleFontWeight":"normal","titleColor":"#000","titleAngle":270,"titleX":-41,"titleY":116,"titleAlign":"center","titleBaseline":"alphabetic"}},"y2":{"field":"lo"},"detail":{"field":"g","type":"nominal"},"fill":{"field":"s","type":"nominal","title":null,"scale":{"range":["#30AE87"]}}}},
  {"mark":{"type":"line","color":"#000","strokeWidth":2.5},"encoding":{"y":{"field":"m","type":"quantitative","title":"Reflectance (%)","scale":{"domain":[0,0.6],"nice":false,"zero":false},"axis":{"values":[0,0.1,0.2,0.3,0.4,0.5,0.6],"format":".1f","labels":true,"title":"Reflectance (%)","titleFont":"Lato","titleFontSize":30,"titleFontWeight":"normal","titleColor":"#000","titleAngle":270,"titleX":-41,"titleY":116,"titleAlign":"center","titleBaseline":"alphabetic"}},"detail":{"field":"g","type":"nominal"}}}
 ]},
{"width":233,"height":232,"data":{"name":"s"},"transform":[{"filter":"datum.s==='Pinus taeda'"}],
 "encoding":{"x":{"field":"w","type":"quantitative","title":null,"scale":{"domain":[0.401,2.579],"nice":false,"zero":false},"axis":{"values":[0.5,1,1.5,2,2.5],"format":".1f","labels":false,"title":null}}},
 "layer":[
  {"mark":"area","encoding":{"y":{"field":"hi","type":"quantitative","title":null,"scale":{"domain":[0,0.6],"nice":false,"zero":false},"axis":{"values":[0,0.1,0.2,0.3,0.4,0.5,0.6],"format":".1f","labels":false,"title":null}},"y2":{"field":"lo"},"detail":{"field":"g","type":"nominal"},"fill":{"field":"s","type":"nominal","title":null,"scale":{"range":["#C5DC6E"]}}}},
  {"mark":{"type":"line","color":"#000","strokeWidth":2.5},"encoding":{"y":{"field":"m","type":"quantitative","title":null,"scale":{"domain":[0,0.6],"nice":false,"zero":false},"axis":{"values":[0,0.1,0.2,0.3,0.4,0.5,0.6],"format":".1f","labels":false,"title":null}},"detail":{"field":"g","type":"nominal"}}}
 ]},
{"width":233,"height":232,"data":{"name":"s"},"transform":[{"filter":"datum.s==='Quercus geminata'"}],
 "encoding":{"x":{"field":"w","type":"quantitative","title":null,"scale":{"domain":[0.401,2.579],"nice":false,"zero":false},"axis":{"values":[0.5,1,1.5,2,2.5],"format":".1f","labels":false,"title":null}}},
 "layer":[
  {"mark":"area","encoding":{"y":{"field":"hi","type":"quantitative","title":null,"scale":{"domain":[0,0.6],"nice":false,"zero":false},"axis":{"values":[0,0.1,0.2,0.3,0.4,0.5,0.6],"format":".1f","labels":false,"title":null}},"y2":{"field":"lo"},"detail":{"field":"g","type":"nominal"},"fill":{"field":"s","type":"nominal","title":null,"scale":{"range":["#F0C94B"]}}}},
  {"mark":{"type":"line","color":"#000","strokeWidth":2.5},"encoding":{"y":{"field":"m","type":"quantitative","title":null,"scale":{"domain":[0,0.6],"nice":false,"zero":false},"axis":{"values":[0,0.1,0.2,0.3,0.4,0.5,0.6],"format":".1f","labels":false,"title":null}},"detail":{"field":"g","type":"nominal"}}}
 ]},
{"width":233,"height":232,"data":{"name":"s"},"transform":[{"filter":"datum.s==='Quercus laevis'"}],
 "encoding":{"x":{"field":"w","type":"quantitative","title":null,"scale":{"domain":[0.401,2.579],"nice":false,"zero":false},"axis":{"values":[0.5,1,1.5,2,2.5],"format":".1f","labels":true,"title":null}}},
 "layer":[
  {"mark":"area","encoding":{"y":{"field":"hi","type":"quantitative","title":null,"scale":{"domain":[0,0.6],"nice":false,"zero":false},"axis":{"values":[0,0.1,0.2,0.3,0.4,0.5,0.6],"format":".1f","labels":true,"title":null}},"y2":{"field":"lo"},"detail":{"field":"g","type":"nominal"},"fill":{"field":"s","type":"nominal","title":null,"scale":{"range":["#E9A233"]}}}},
  {"mark":{"type":"line","color":"#000","strokeWidth":2.5},"encoding":{"y":{"field":"m","type":"quantitative","title":null,"scale":{"domain":[0,0.6],"nice":false,"zero":false},"axis":{"values":[0,0.1,0.2,0.3,0.4,0.5,0.6],"format":".1f","labels":true,"title":null}},"detail":{"field":"g","type":"nominal"}}}
 ]},
{"width":233,"height":232,"data":{"name":"s"},"transform":[{"filter":"datum.s==='Quercus nigra'"}],
 "encoding":{"x":{"field":"w","type":"quantitative","title":"Wavelength (µm)","scale":{"domain":[0.401,2.579],"nice":false,"zero":false},"axis":{"values":[0.5,1,1.5,2,2.5],"format":".1f","labels":true,"title":"Wavelength (µm)","titleFont":"Lato","titleFontSize":30,"titleFontWeight":"normal","titleColor":"#000","titleX":99,"titleY":63,"titleAlign":"center","titleBaseline":"alphabetic"}}},
 "layer":[
  {"mark":"area","encoding":{"y":{"field":"hi","type":"quantitative","title":null,"scale":{"domain":[0,0.6],"nice":false,"zero":false},"axis":{"values":[0,0.1,0.2,0.3,0.4,0.5,0.6],"format":".1f","labels":false,"title":null}},"y2":{"field":"lo"},"detail":{"field":"g","type":"nominal"},"fill":{"field":"s","type":"nominal","title":null,"scale":{"range":["#E07C33"]}}}},
  {"mark":{"type":"line","color":"#000","strokeWidth":2.5},"encoding":{"y":{"field":"m","type":"quantitative","title":null,"scale":{"domain":[0,0.6],"nice":false,"zero":false},"axis":{"values":[0,0.1,0.2,0.3,0.4,0.5,0.6],"format":".1f","labels":false,"title":null}},"detail":{"field":"g","type":"nominal"}}}
 ]},
{"width":233,"height":232,
 "layer":[
  {"data":{"name":"s"},"mark":{"type":"line","strokeWidth":1.9},"encoding":{"x":{"field":"w","type":"quantitative","title":null,"scale":{"domain":[0.401,2.579],"nice":false,"zero":false},"axis":{"values":[0.5,1,1.5,2,2.5],"format":".1f","labels":true,"title":null}},"y":{"field":"m","type":"quantitative","title":null,"scale":{"domain":[-0.0115,0.523],"nice":false,"zero":false},"axis":{"values":[0,0.1,0.2,0.3,0.4,0.5],"labels":false,"title":null}},"detail":{"field":"g","type":"nominal"},"color":{"field":"s","type":"nominal","legend":null,"scale":{"domain":["Acer rubrum","Liquidambar styraciflua","Pinus elliottii","Pinus palustris","Pinus taeda","Quercus geminata","Quercus laevis","Quercus nigra"],"range":["#1F77B4","#9C86C6","#3DB1D0","#0E9E74","#B4D445","#EFC126","#E99A12","#D9600B"]}}}},
  {"data":{"values":[{"t":"All species"}]},"mark":{"type":"text","align":"right","baseline":"alphabetic","font":"DejaVu Sans","fontSize":12,"color":"#000"},"encoding":{"x":{"datum":2.457,"type":"quantitative"},"y":{"datum":0.47,"type":"quantitative"},"text":{"field":"t","type":"nominal"}}},
  {"data":{"values":[{"t":"wm"}]},"mark":{"type":"rect","color":"#F28C28","opacity":0.5},"encoding":{"x":{"datum":-4.357,"type":"quantitative"},"x2":{"datum":1.803},"y":{"datum":1.774,"type":"quantitative"},"y2":{"datum":1.675}}},
  {"data":{"values":[{"t":"Peer"}]},"mark":{"type":"text","align":"left","baseline":"alphabetic","font":"Lato","fontSize":32,"color":"#ffffff","opacity":0.9},"encoding":{"x":{"datum":-4.095,"type":"quantitative"},"y":{"datum":1.697,"type":"quantitative"},"text":{"field":"t","type":"nominal"}}},
  {"data":{"values":[{"t":"|Preprints"}]},"mark":{"type":"text","align":"left","baseline":"alphabetic","font":"Lato","fontSize":20,"color":"#b5a696"},"encoding":{"x":{"datum":-3.385,"type":"quantitative"},"y":{"datum":1.706,"type":"quantitative"},"text":{"field":"t","type":"nominal"}}},
  {"data":{"values":[{"t":"NOT PEER-REVIEWED"}]},"mark":{"type":"text","align":"left","baseline":"alphabetic","font":"Liberation Sans","fontSize":16.5,"color":"#a08f80"},"encoding":{"x":{"datum":-0.113,"type":"quantitative"},"y":{"datum":1.693,"type":"quantitative"},"text":{"field":"t","type":"nominal"}}},
  {"data":{"values":[{"t":"PeerJ Preprints | https://doi.org/10.7287/peerj.preprints.26972v1 | CC BY 4.0 Open Access | rec: 1 Jun 2018, publ: 1 Jun 2018"}]},"mark":{"type":"text","align":"center","baseline":"alphabetic","font":"Liberation Sans","fontSize":8.8,"color":"#333333"},"encoding":{"x":{"datum":-1.263,"type":"quantitative"},"y":{"datum":-0.151,"type":"quantitative"},"text":{"field":"t","type":"nominal"}}}
 ]}
],
"config":{
 "view":{"stroke":"#222222","strokeWidth":1},
 "axis":{"domain":false,"grid":false,"ticks":true,"tickColor":"#000","tickSize":5,"tickWidth":1,"labelFont":"DejaVu Sans","labelFontSize":14.5,"labelColor":"#000","labelPadding":3,"labelFlush":false,"labelOverlap":false,"labelBound":false},
 "legend":{"orient":"top-right","offset":6,"symbolType":"M-2.083,-0.75H2.083V0.75H-2.083Z","symbolSize":144,"fillColor":"#ffffff","strokeColor":"#cccccc","cornerRadius":3,"padding":4,"labelFont":"DejaVu Sans","labelFontSize":12,"labelColor":"#000","labelOffset":16.5,"labelLimit":300,"symbolStrokeWidth":0,"symbolOpacity":1}
}
}
